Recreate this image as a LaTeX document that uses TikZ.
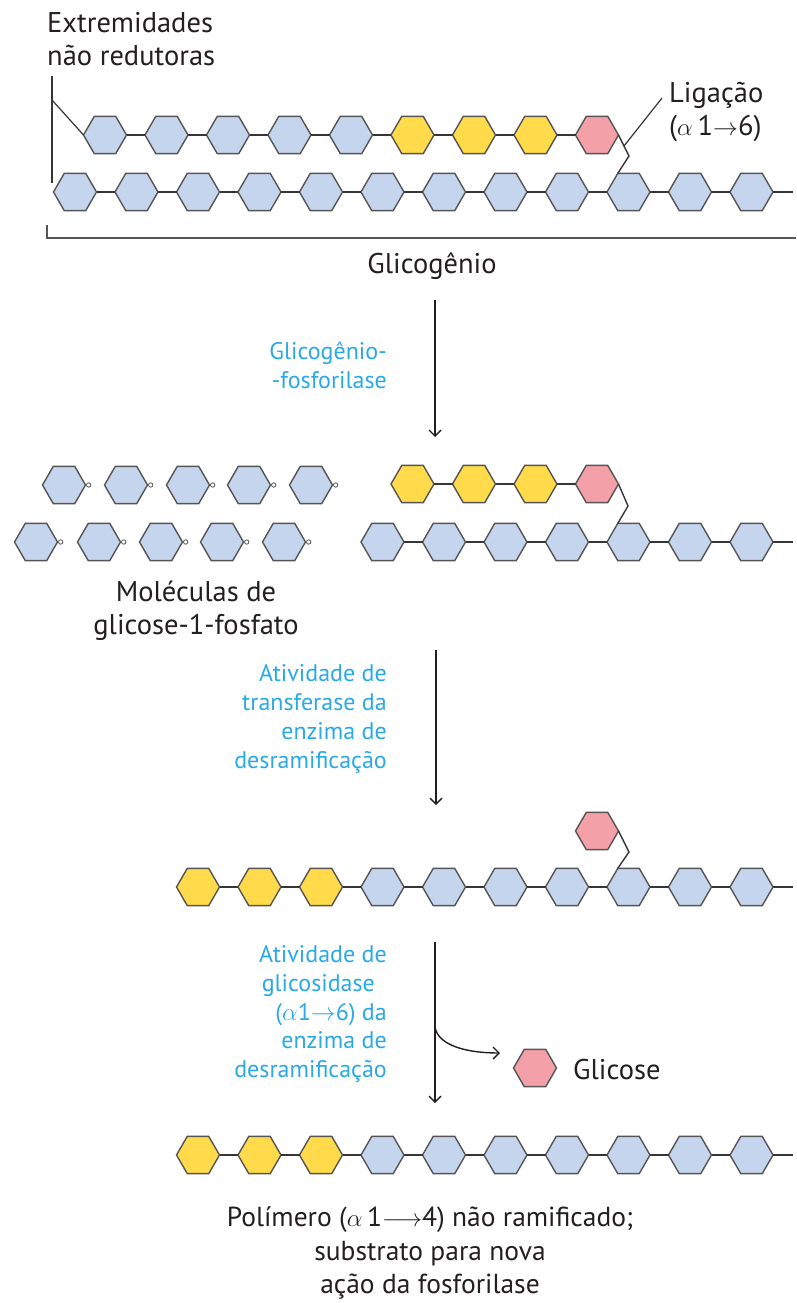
\documentclass[tikz,border=0pt]{standalone}
\usepackage{fontspec}
\setmainfont{PT Sans}
\usetikzlibrary{shapes.geometric,arrows.meta,calc}
\definecolor{hexblue}{HTML}{C6D5EE}
\definecolor{hexyellow}{HTML}{FFDA4A}
\definecolor{hexpink}{HTML}{F4A0A8}
\definecolor{hexline}{HTML}{555555}
\definecolor{labcyan}{HTML}{29A9E6}
\definecolor{txt}{HTML}{231F20}
\tikzset{
  hex/.style={regular polygon, regular polygon sides=6, minimum size=43pt, inner sep=0pt, outer sep=0pt, draw=hexline, line width=1.4pt},
  bhex/.style={hex, fill=hexblue},
  yhex/.style={hex, fill=hexyellow},
  phex/.style={hex, fill=hexpink},
  bond/.style={draw=txt!90, line width=1.4pt},
  lead/.style={draw=txt!90, line width=1.2pt},
  arr/.style={draw=txt, line width=1.4pt, -{Straight Barb[length=6pt,width=12pt]}},
  lab/.style={font=\fontsize{28.5}{33}\selectfont, text=txt, inner sep=0pt},
  enz/.style={font=\fontsize{24}{28.8}\selectfont, text=labcyan, align=right, inner sep=0pt, anchor=east},
  phos/.style={draw=hexline, line width=0.8pt, fill=white}
}
\begin{document}
\begin{tikzpicture}[x=1pt,y=-1pt]
\useasboundingbox (0,0) rectangle (796,1303);

% ---------------- Top: glycogen ----------------
\node[lab, anchor=west, align=left] (extr) at (47,39) {Extremidades\\não redutoras};
\foreach \i in {0,...,11} \node[bhex] (m\i) at ({75+61.5*\i},192) {};
\foreach \i [evaluate=\i as \j using int(\i+1)] in {0,...,10} \draw[bond] (m\i) -- (m\j);
\coordinate (mend) at (793,192);
\draw[bond] (m11) -- (mend);
\foreach \i in {0,...,4} \node[bhex] (b\i) at ({597-61.5*(8-\i)},135) {};
\foreach \i in {5,6,7} \node[yhex] (b\i) at ({597-61.5*(8-\i)},135) {};
\node[phex] (b8) at (597,135) {};
\foreach \i [evaluate=\i as \j using int(\i+1)] in {0,...,7} \draw[bond] (b\i) -- (b\j);
\coordinate (k1) at (629,156);
\draw[bond] (b8.0) -- (k1) -- (m9.120);
% non-reducing ends leader
\coordinate (v1) at (52,76);
\coordinate (v2) at (52,183);
\coordinate (v3) at (52,100);
\draw[lead] (v1) -- (v2);
\draw[lead] (v3) -- (b0.180);
% Ligacao label
\node[lab, anchor=west, align=left] (lig) at (669,112) {Ligação\\($\alpha$\,1$\rightarrow$6)};
\coordinate (l1) at (662,98);
\coordinate (l2) at (624,146);
\draw[lead] (l1) -- (l2);
% bracket
\coordinate (br1) at (47,225);
\coordinate (br2) at (47,238);
\coordinate (br3) at (796,238);
\draw[draw=hexline, line width=1.6pt] (br1) -- (br2) -- (br3);
\node[lab] (glic) at (432,266) {Glicogênio};

% ---------------- Arrow 1 ----------------
\coordinate (a1s) at (435,300);
\coordinate (a1e) at (435,437);
\draw[arr] (a1s) -- (a1e);
\node[enz] (e1) at (387,365) {Glicogênio-\\-fosforilase};

% ---------------- Middle ----------------
\foreach \x [count=\k] in {64,126,188,249,311} {
  \node[bhex] (ga\k) at (\x,485) {};
  \draw[phos] ($(ga\k.0)+(3.2,0)$) circle (2.2);
}
\foreach \x [count=\k] in {36,99,161,222,284} {
  \node[bhex] (gb\k) at (\x,542) {};
  \draw[phos] ($(gb\k.0)+(3.2,0)$) circle (2.2);
}
\node[lab, align=center] (mol) at (196,611) {Moléculas de\\glicose-1-fosfato};

\foreach \i in {5,...,11} \node[bhex] (n\i) at ({75+61.5*\i},542) {};
\foreach \i [evaluate=\i as \j using int(\i+1)] in {5,...,10} \draw[bond] (n\i) -- (n\j);
\coordinate (nend) at (793,542);
\draw[bond] (n11) -- (nend);
\foreach \i in {5,6,7} \node[yhex] (c\i) at ({597-61.5*(8-\i)},484) {};
\node[phex] (c8) at (597,484) {};
\foreach \i [evaluate=\i as \j using int(\i+1)] in {5,6,7} \draw[bond] (c\i) -- (c\j);
\coordinate (k2) at (628,506);
\draw[bond] (c8.0) -- (k2) -- (n9.120);

% ---------------- Arrow 2 ----------------
\coordinate (a2s) at (436,650);
\coordinate (a2e) at (436,805);
\draw[arr] (a2s) -- (a2e);
\node[enz] (e2) at (387,719) {Atividade de\\transferase da\\enzima de\\desramificação};

% ---------------- Third chain ----------------
\foreach \i in {2,3,4} \node[yhex] (t\i) at ({75+61.5*\i},887) {};
\foreach \i in {5,...,11} \node[bhex] (t\i) at ({75+61.5*\i},887) {};
\foreach \i [evaluate=\i as \j using int(\i+1)] in {2,...,10} \draw[bond] (t\i) -- (t\j);
\coordinate (tend) at (793,887);
\draw[bond] (t11) -- (tend);
\node[phex] (tp) at (597,831) {};
\coordinate (k3) at (629,852);
\draw[bond] (tp.0) -- (k3) -- (t9.120);

% ---------------- Arrow 3 ----------------
\coordinate (a3s) at (435,942);
\coordinate (a3e) at (435,1103);
\draw[arr] (a3s) -- (a3e);
\coordinate (cb) at (435,1027);
\coordinate (ce) at (500,1053);
\draw[arr] (cb) .. controls (438,1046) and (468,1053) .. (ce);
\node[enz] (e3) at (387,1014) {Atividade de\\glicosidase\phantom{a}\\($\alpha$1$\rightarrow$6) da\\enzima de\\desramificação};
\node[phex] (gl) at (535,1068) {};
\node[lab, anchor=west] (gltxt) at (573,1070) {Glicose};

% ---------------- Bottom chain ----------------
\foreach \i in {2,3,4} \node[yhex] (u\i) at ({75+61.5*\i},1155) {};
\foreach \i in {5,...,11} \node[bhex] (u\i) at ({75+61.5*\i},1155) {};
\foreach \i [evaluate=\i as \j using int(\i+1)] in {2,...,10} \draw[bond] (u\i) -- (u\j);
\coordinate (uend) at (793,1155);
\draw[bond] (u11) -- (uend);
\node[lab, align=center, font=\fontsize{27.5}{33.5}\selectfont] (poly) at (430,1253) {Polímero ($\alpha$\,1$\longrightarrow$4) não ramificado;\\substrato para nova\\ação da fosforilase};
\end{tikzpicture}
\end{document}
